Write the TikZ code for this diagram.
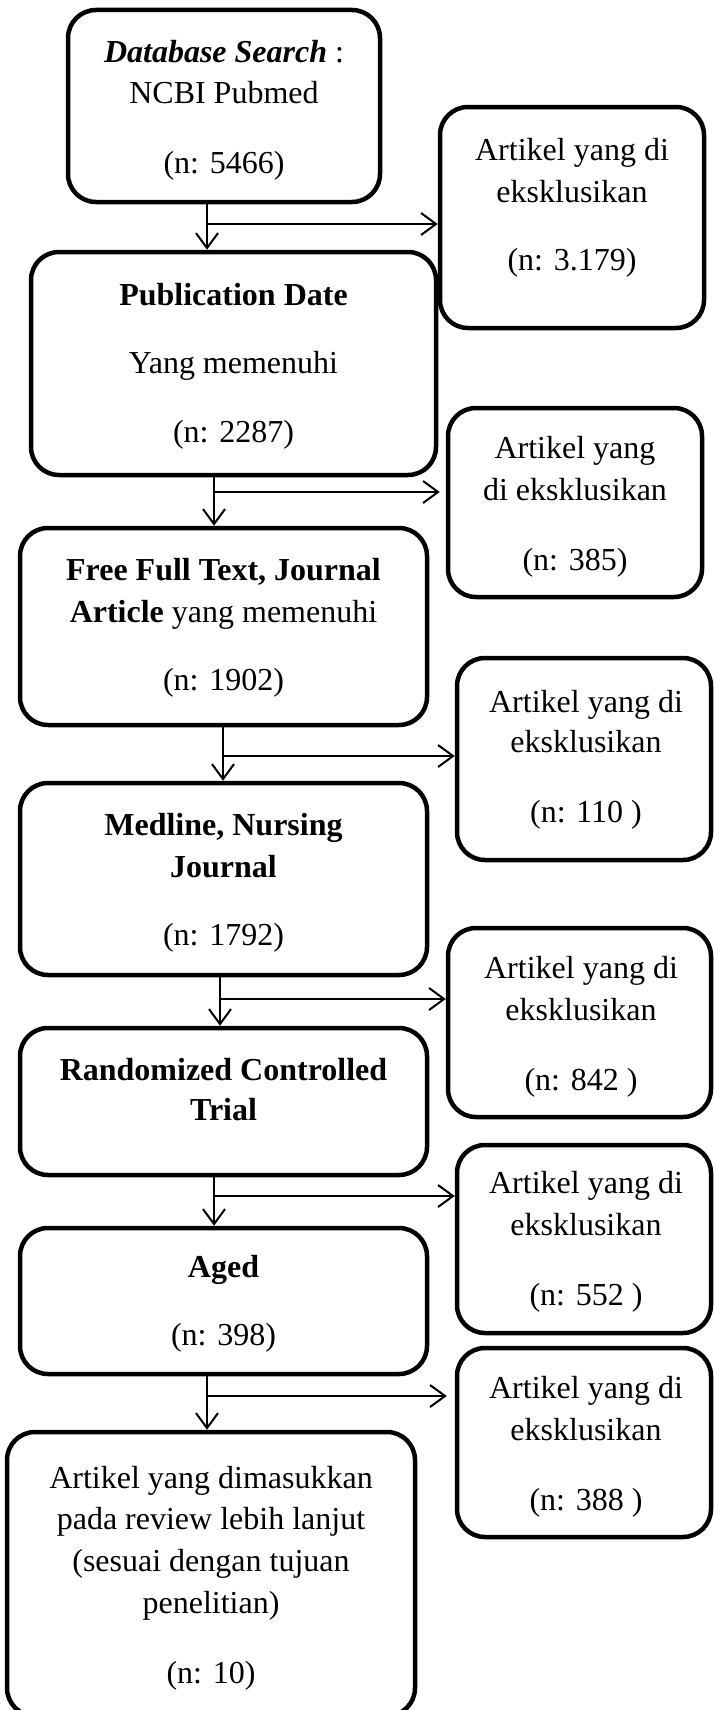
\documentclass[tikz,border=0pt]{standalone}
\usepackage{fontspec}
\setmainfont{Liberation Serif}
\usetikzlibrary{arrows.meta}
\begin{document}
\begin{tikzpicture}[x=1pt,y=-1pt,
  box/.style={draw, line width=4.5pt, rounded corners=28pt, inner sep=0pt},
  txt/.style={align=center, inner sep=0pt, anchor=base, font=\fontsize{32}{42}\selectfont},
  arr/.style={line width=2pt, -{Straight Barb[length=15pt,width=22pt,line width=2pt]}}]
\useasboundingbox (0,0) rectangle (713,1710);
% boxes
\node[box, minimum width=312pt, minimum height=192pt] (b1) at (224,106) {};
\node[box, minimum width=264pt, minimum height=221pt] (r1) at (572,217.5) {};
\node[box, minimum width=405pt, minimum height=223pt] (b2) at (233.5,363.5) {};
\node[box, minimum width=254pt, minimum height=189pt] (r2) at (575,502.5) {};
\node[box, minimum width=407pt, minimum height=197pt] (b3) at (223.5,626.5) {};
\node[box, minimum width=254pt, minimum height=202pt] (r3) at (584,759) {};
\node[box, minimum width=407pt, minimum height=192pt] (b4) at (223.5,879) {};
\node[box, minimum width=263pt, minimum height=189pt] (r4) at (579.5,1022.5) {};
\node[box, minimum width=407pt, minimum height=147pt] (b5) at (223.5,1101.5) {};
\node[box, minimum width=254pt, minimum height=188pt] (r5) at (584,1239) {};
\node[box, minimum width=407pt, minimum height=146pt] (b6) at (223.5,1301) {};
\node[box, minimum width=254pt, minimum height=189pt] (r6) at (584,1442.5) {};
\node[box, minimum width=408pt, minimum height=284pt] (b7) at (211,1574) {};
% texts (anchor = baseline of last line)
\node[txt] (t1) at (224,173) {\textbf{\textit{Database Search}} :\\[-1pt] NCBI Pubmed\\[28pt] (n: 5466)};
\node[txt] (tr1) at (572,270) {Artikel yang di\\ eksklusikan\\[26pt] (n: 3.179)};
\node[txt] (t2) at (233.5,442) {\textbf{Publication Date}\\[26pt] Yang memenuhi\\[27pt] (n: 2287)};
\node[txt] (tr2) at (575,570) {Artikel yang\\ di eksklusikan\\[28pt] (n: 385)};
\node[txt] (t3) at (223.5,690) {\textbf{Free Full Text, Journal}\\ \textbf{Article} yang memenuhi\\[26pt] (n: 1902)};
\node[txt] (tr3) at (586,822) {Artikel yang di\\[-2pt] eksklusikan\\[28pt] (n: 110 )};
\node[txt] (t4) at (223.5,945) {\textbf{Medline, Nursing}\\ \textbf{Journal}\\[26pt] (n: 1792)};
\node[txt] (tr4) at (581,1090) {Artikel yang di\\ eksklusikan\\[28pt] (n: 842 )};
\node[txt] (t5) at (223.5,1120) {\textbf{Randomized Controlled}\\[-2pt] \textbf{Trial}};
\node[txt] (tr5) at (586,1305) {Artikel yang di\\ eksklusikan\\[28pt] (n: 552 )};
\node[txt] (t6) at (223.5,1345) {\textbf{Aged}\\[26pt] (n: 398)};
\node[txt] (tr6) at (586,1510) {Artikel yang di\\ eksklusikan\\[28pt] (n: 388 )};
\node[txt] (t7) at (211,1683) {Artikel yang dimasukkan\\[-1pt] pada review lebih lanjut\\ (sesuai dengan tujuan\\ penelitian)\\[28pt] (n: 10)};
% connectors
\coordinate (j1) at (207,224);
\coordinate (j2) at (214,492);
\coordinate (j3) at (223,756);
\coordinate (j4) at (220,999);
\coordinate (j5) at (214,1196);
\coordinate (j6) at (207,1396);
\draw[arr] (b1.south -| j1) -- (b2.north -| j1);
\draw[arr] (j1) -- (j1 -| r1.west);
\draw[arr] (b2.south -| j2) -- (b3.north -| j2);
\draw[arr, shorten >=6pt] (j2) -- (j2 -| r2.west);
\draw[arr] (b3.south -| j3) -- (b4.north -| j3);
\draw[arr] (j3) -- (j3 -| r3.west);
\draw[arr] (b4.south -| j4) -- (b5.north -| j4);
\draw[arr] (j4) -- (j4 -| r4.west);
\draw[arr] (b5.south -| j5) -- (b6.north -| j5);
\draw[arr] (j5) -- (j5 -| r5.west);
\draw[arr] (b6.south -| j6) -- (b7.north -| j6);
\draw[arr, shorten >=8pt] (j6) -- (j6 -| r6.west);
\end{tikzpicture}
\end{document}
